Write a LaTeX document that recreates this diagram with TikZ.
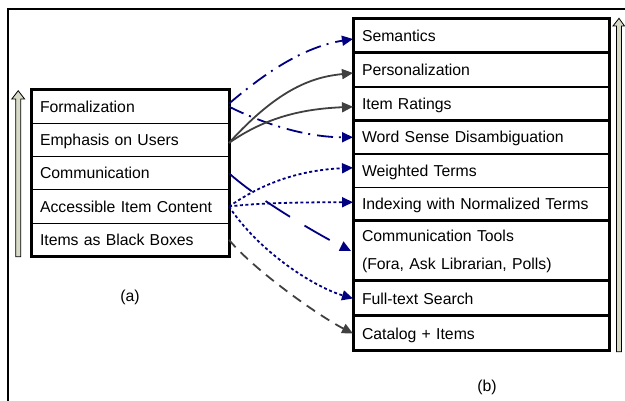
\documentclass[tikz,border=0pt]{standalone}
\usepackage{fontspec}
\setmainfont{Liberation Sans}
\usetikzlibrary{arrows.meta}
\definecolor{navy}{RGB}{0,0,128}
\definecolor{dgray}{RGB}{64,64,64}
\definecolor{shaftfill}{RGB}{214,218,198}
\begin{document}
\begin{tikzpicture}[x=1pt,y=-1pt,
  every node/.style={font=\fontsize{15.8}{19}\selectfont},
  rowbase/.style={draw, line width=1.1pt, rectangle, anchor=north west, outer sep=0pt,
    inner xsep=9pt, inner ysep=0pt, align=left},
  th/.style={text height=11.5pt, text depth=0pt},
  lrow/.style={rowbase, th, text width=180pt, minimum height=33.3pt},
  rrow/.style={rowbase, th, text width=238pt, minimum height=#1},
  grp/.style={draw, line width=3pt},
  con/.style={line width=1.8pt, -{Triangle[length=11pt,width=10pt]}},
  dashdot/.style={dash pattern=on 16pt off 6pt on 2pt off 7pt},
  longdash/.style={dash pattern=on 29pt off 17pt},
  dots/.style={dash pattern=on 3pt off 2.5pt},
  gdash/.style={dash pattern=on 10pt off 7pt},
  hollow/.style={draw=black, fill=shaftfill, line width=0.8pt}
]
\useasboundingbox (0,0) rectangle (625,401);
% frame
\draw[line width=2.5pt] (8,401) -- (8,9) -- (625,9);

% left stack
\node[lrow] (f) at (31,90) {Formalization};
\node[lrow] (e) at (31,123.3) {Emphasis on Users};
\node[lrow] (c) at (31,156.6) {Communication};
\node[lrow] (a) at (31,189.9) {Accessible Item Content};
\node[lrow] (b) at (31,223.2) {Items as Black Boxes};
\draw[grp] (f.north west) rectangle (b.south east);

% right stack
\node[rrow=34pt] (sem) at (353,19) {Semantics};
\node[rrow=34pt] (pers) at (353,53) {Personalization};
\node[rrow=33.5pt] (ir) at (353,87) {Item Ratings};
\node[rrow=33.5pt] (wsd) at (353,120.5) {Word Sense Disambiguation};
\node[rrow=33.5pt] (wt) at (353,154) {Weighted Terms};
\node[rrow=33.5pt] (idx) at (353,187.5) {Indexing with Normalized Terms};
\node[rowbase, text width=238pt, minimum height=60pt, font=\fontsize{15.8}{28}\selectfont] (ct) at (353,221) {Communication Tools\\(Fora, Ask Librarian, Polls)};
\node[rrow=35pt] (ft) at (353,281) {Full-text Search};
\node[rrow=35pt] (cat) at (353,316) {Catalog + Items};
\draw[grp] (sem.north west) rectangle (sem.south east);
\draw[grp] (pers.north west) rectangle (ir.south east);
\draw[grp] (wsd.north west) rectangle (idx.south east);
\draw[grp] (ct.north west) rectangle (ct.south east);
\draw[grp] (ft.north west) rectangle (ft.south east);
\draw[grp] (cat.north west) rectangle (cat.south east);

% hollow arrows
\draw[hollow] (15.7,256.7) -- (15.7,99) -- (11.8,99) -- (18.2,90.7) -- (24.6,99) -- (20.7,99) -- (20.7,256.7) -- cycle;
\draw[hollow] (616.5,351.7) -- (616.5,26) -- (613,26) -- (619,18.3) -- (624.5,26) -- (621.5,26) -- (621.5,351.7) -- cycle;

% connectors
\draw[con, navy, dashdot] ([yshift=3pt]f.east) .. controls +(35,-30) and +(-50,8) .. ([yshift=-3pt]sem.west);
\draw[con, navy, dashdot] (f.east) .. controls +(30,15) and +(-50,0) .. (wsd.west);
\draw[con, dgray] ([yshift=-3pt]e.east) .. controls +(50,-55) and +(-40,4) .. ([yshift=-3pt]pers.west);
\draw[con, dgray] ([yshift=-3pt]e.east) .. controls +(40,-28) and +(-45,2) .. ([yshift=-3pt]ir.west);
\draw[con, navy, longdash] (c.east) .. controls +(30,27) and +(-30,-15) .. ([xshift=-2pt]ct.west);
\draw[con, navy, dots] (a.east) .. controls +(40,-28) and +(-45,2) .. ([yshift=3pt]wt.west);
\draw[con, navy, dots] (a.east) .. controls +(30,-4) and +(-40,0) .. ([yshift=2pt]idx.west);
\draw[con, navy, dots] (a.east) .. controls +(30,45) and +(-40,-12) .. (ft.west);
\draw[con, dgray, gdash] (b.east) .. controls +(25,30) and +(-35,-18) .. (cat.west);

% labels
\node (la) at (130,297) {(a)};
\node (lb) at (487,387) {(b)};
\end{tikzpicture}
\end{document}
